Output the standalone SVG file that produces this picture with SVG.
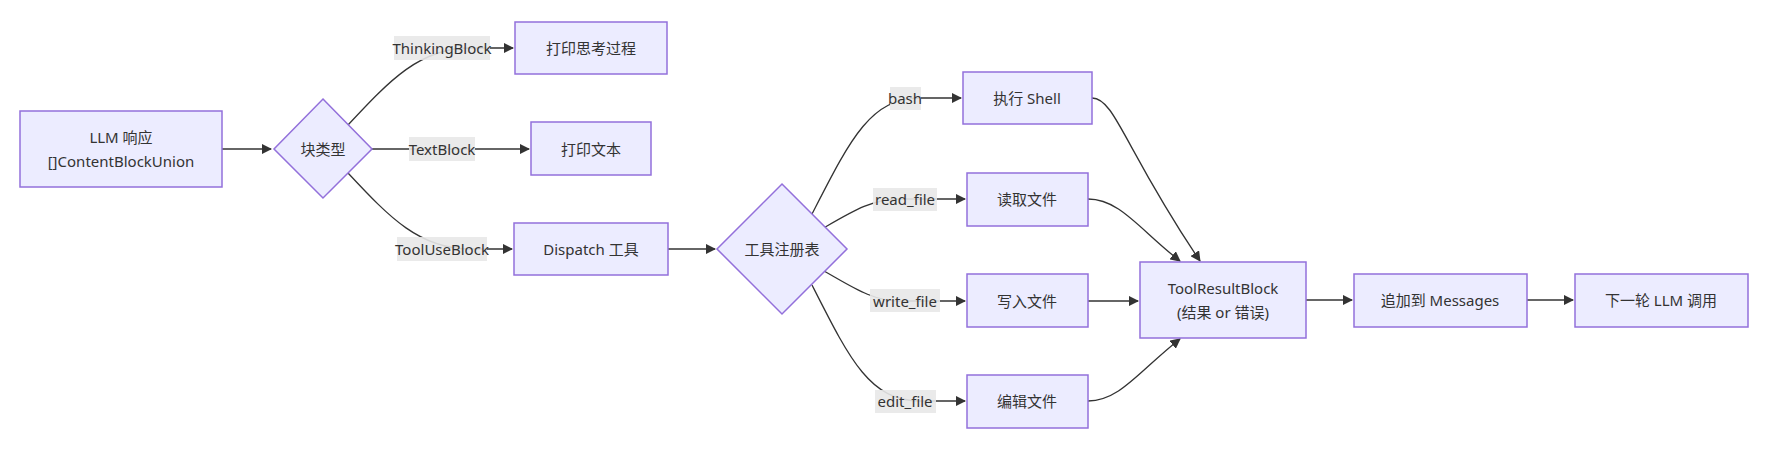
<svg xmlns="http://www.w3.org/2000/svg" width="1772" height="468" viewBox="0 0 1772 468">
<style>
.n{fill:#ECECFF;stroke:#9370DB;stroke-width:1.5}
text{font-family:"Noto Sans","Noto Sans CJK SC",sans-serif;font-size:15px;fill:#333;text-anchor:middle;dominant-baseline:central}
.e{fill:none;stroke:#333;stroke-width:1.3;marker-end:url(#a)}
.lb{fill:#e8e8e8;opacity:0.9}
</style>
<defs><marker id="a" viewBox="0 0 10 10" refX="9" refY="5" markerWidth="8" markerHeight="8" orient="auto"><path d="M0,0L10,5L0,10z" fill="#333"/></marker></defs>
<rect width="1772" height="468" fill="#fff"/>
<g id="connectors">
<path class="e" d="M222,149 L271,149"/>
<path class="e" d="M348,125 C390,80 420,48 470,48 L513,48"/>
<path class="e" d="M372,149 L529,149"/>
<path class="e" d="M348,173 C390,218 420,249 470,249 L512,249"/>
<path class="e" d="M668,249 L715,249"/>
<path class="e" d="M812,214 C850,140 870,98 920,98 L961,98"/>
<path class="e" d="M815,233 C850,213 870,199 900,199 L965,199"/>
<path class="e" d="M815,266 C850,285 870,301 900,301 L965,301"/>
<path class="e" d="M812,285 C850,360 870,401 920,401 L965,401"/>
<path class="e" d="M1092,98 C1115,98 1125,150 1200,261"/>
<path class="e" d="M1088,199 C1120,199 1140,230 1180,261"/>
<path class="e" d="M1088,301 L1138,301"/>
<path class="e" d="M1088,401 C1120,401 1140,370 1180,339"/>
<path class="e" d="M1306,300 L1352,300"/>
<path class="e" d="M1527,300 L1573,300"/>
<rect class="lb" x="394" y="36" width="96" height="24"/><text x="442" y="48">ThinkingBlock</text>
<rect class="lb" x="409" y="137" width="66" height="24"/><text x="442" y="149">TextBlock</text>
<rect class="lb" x="397" y="237" width="90" height="24"/><text x="442" y="249">ToolUseBlock</text>
<rect class="lb" x="890" y="87" width="31" height="23"/><text x="905" y="98">bash</text>
<rect class="lb" x="873" y="188" width="64" height="23"/><text x="905" y="199">read_file</text>
<rect class="lb" x="870" y="289" width="70" height="23"/><text x="905" y="301">write_file</text>
<rect class="lb" x="875" y="390" width="61" height="23"/><text x="905" y="401">edit_file</text>
</g>
<g id="llm"><rect class="n" x="20" y="111" width="202" height="76"/><text x="121" y="137">LLM 响应</text><text x="121" y="161">[]ContentBlockUnion</text></g>
<g id="type"><polygon class="n" points="323,99 372,149 323,198 274,149"/><text x="323" y="149">块类型</text></g>
<g id="think"><rect class="n" x="515" y="22" width="152" height="52"/><text x="591" y="48">打印思考过程</text></g>
<g id="text"><rect class="n" x="531" y="122" width="120" height="53"/><text x="591" y="149">打印文本</text></g>
<g id="dispatch"><rect class="n" x="514" y="223" width="154" height="52"/><text x="591" y="249">Dispatch 工具</text></g>
<g id="reg"><polygon class="n" points="782,184 847,249 782,314 717,249"/><text x="782" y="249">工具注册表</text></g>
<g id="shell"><rect class="n" x="963" y="72" width="129" height="52"/><text x="1027" y="98">执行 Shell</text></g>
<g id="read"><rect class="n" x="967" y="173" width="121" height="53"/><text x="1027" y="199">读取文件</text></g>
<g id="write"><rect class="n" x="967" y="274" width="121" height="53"/><text x="1027" y="301">写入文件</text></g>
<g id="edit"><rect class="n" x="967" y="375" width="121" height="53"/><text x="1027" y="401">编辑文件</text></g>
<g id="result"><rect class="n" x="1140" y="262" width="166" height="76"/><text x="1223" y="288">ToolResultBlock</text><text x="1223" y="312">(结果 or 错误)</text></g>
<g id="append"><rect class="n" x="1354" y="274" width="173" height="53"/><text x="1440" y="300">追加到 Messages</text></g>
<g id="next"><rect class="n" x="1575" y="274" width="173" height="53"/><text x="1661" y="300">下一轮 LLM 调用</text></g>
</svg>
